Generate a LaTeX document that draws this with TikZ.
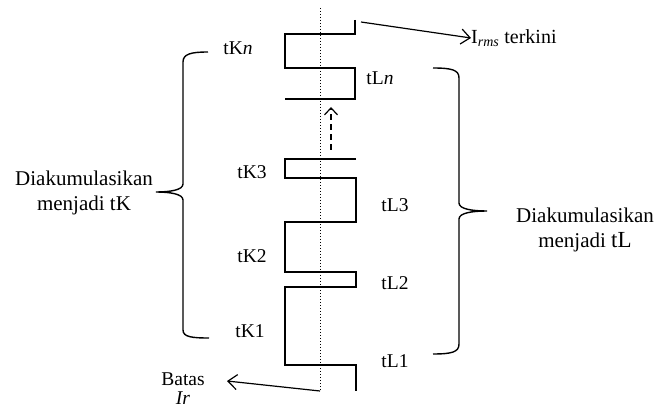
\documentclass[tikz,border=0pt]{standalone}
\usepackage{fontspec}
\setmainfont{Liberation Serif}
\usetikzlibrary{arrows.meta}
\begin{document}
\begin{tikzpicture}[x=1pt,y=-1pt,
  wave/.style={line width=1.6pt, line join=miter},
  lbl/.style={font=\fontsize{19.5}{22}\selectfont, inner sep=0pt},
  side/.style={font=\fontsize{21}{25}\selectfont, align=center, inner sep=0pt},
  brace/.style={line width=1.4pt},
  barb/.style={-{Straight Barb[length=9pt,width=15pt,line width=1.2pt]}, line width=1.2pt}]
\useasboundingbox (0,0) rectangle (657,409);

% axis of the waveform
\coordinate (axTop) at (320,8);
\coordinate (axBot) at (320,391);
\draw[dotted, line width=1pt] (axTop) -- (axBot);

% upper part of the pulse train
\draw[wave] (355,20) -- (355,34) -- (285,34) -- (285,68) -- (355,68) -- (355,99) -- (285,99);
% lower part of the pulse train
\draw[wave] (356,159) -- (285,159) -- (285,178) -- (356,178) -- (356,222) -- (285,222)
  -- (285,272) -- (356,272) -- (356,287) -- (285,287) -- (285,365) -- (356,365) -- (356,391);

% continuation marker
\coordinate (dashA) at (331,150);
\coordinate (dashB) at (331,107);
\draw[dashed, dash pattern=on 6pt off 4pt, line width=1.2pt,
  -{Straight Barb[length=7pt,width=13pt,line width=1.2pt]}] (dashA) -- (dashB);

% interval labels
\node[lbl] (tKn) at (238,48) {tK\textit{n}};
\node[lbl] (tLn) at (380,78) {tL\textit{n}};
\node[lbl] (tK3) at (252,172) {tK3};
\node[lbl] (tL3) at (395,205) {tL3};
\node[lbl] (tK2) at (252,256) {tK2};
\node[lbl] (tL2) at (395,283) {tL2};
\node[lbl] (tK1) at (250,331) {tK1};
\node[lbl] (tL1) at (395,361) {tL1};

% current value
\node[lbl, font=\fontsize{20}{22}\selectfont, anchor=west] (irms) at (471,38)
  {I\textsubscript{\textit{rms}} terkini};
\coordinate (irmsStart) at (361,22);
\draw[barb] (irmsStart) -- (irms.west);

% limit
\node[lbl, align=center, font=\fontsize{19.5}{19}\selectfont] (batas) at (183,389)
  {Batas\\\textit{Ir}};
\coordinate (batasTip) at (227,381);
\draw[barb] (axBot) -- (batasTip);

% grouping text
\node[side] (accK) at (84,193) {Diakumulasikan\\menjadi tK};
\node[side] (accL) at (585,230) {Diakumulasikan\\menjadi {\fontsize{23}{25}\selectfont tL}};

% left brace
\draw[brace] (208,52) .. controls (191,52) and (183,54) .. (183,62) -- (183,184)
  .. controls (183,190) and (170,192) .. (156,192)
  .. controls (170,192) and (183,194) .. (183,200) -- (183,330)
  .. controls (183,337) and (192,338) .. (209,338);

% right brace
\draw[brace] (433,68) .. controls (452,68) and (459,70) .. (459,78) -- (459,203)
  .. controls (459,209) and (472,211) .. (487,211)
  .. controls (472,211) and (459,213) .. (459,219) -- (459,344)
  .. controls (459,352) and (452,354) .. (433,354);
\end{tikzpicture}
\end{document}
